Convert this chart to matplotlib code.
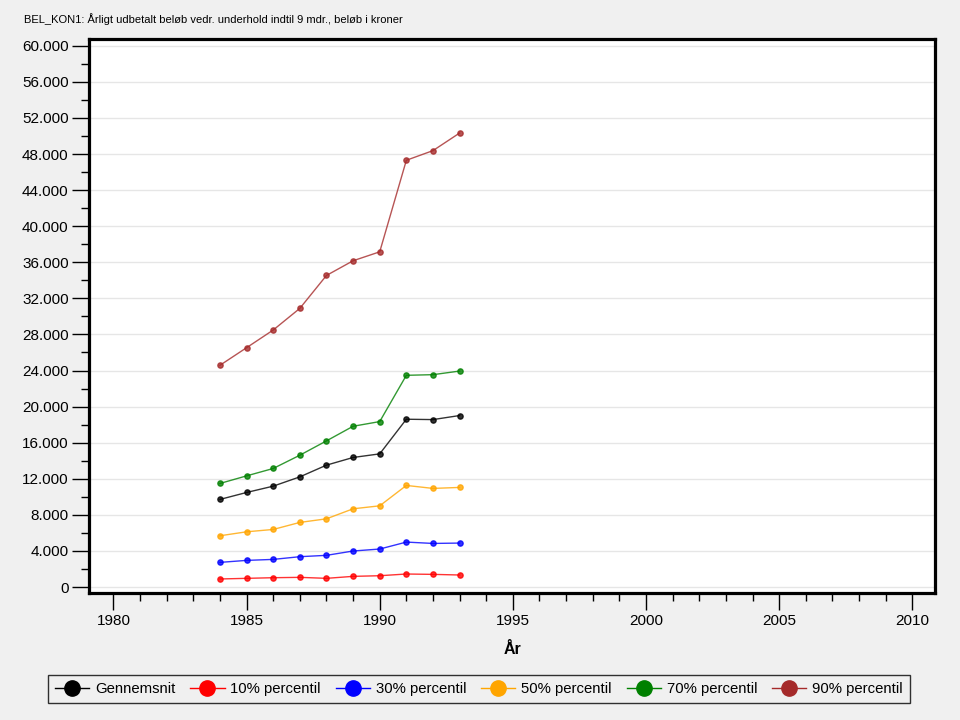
import matplotlib
matplotlib.use("Agg")
import matplotlib.pyplot as plt
import matplotlib.ticker as ticker
from matplotlib.lines import Line2D

plt.rcParams['font.family'] = ['Liberation Sans', 'DejaVu Sans']

# --- DATA ---
years = [1984, 1985, 1986, 1987, 1988, 1989, 1990, 1991, 1992, 1993]
gennemsnit = [9710, 10480, 11180, 12210, 13510, 14360, 14760, 18600, 18560, 19010]
p10 = [890, 960, 1030, 1070, 960, 1180, 1250, 1440, 1400, 1330]
p30 = [2730, 2950, 3060, 3360, 3510, 3990, 4210, 4980, 4830, 4870]
p50 = [5680, 6120, 6380, 7160, 7560, 8670, 9000, 11260, 10930, 11040]
p70 = [11480, 12320, 13140, 14610, 16200, 17820, 18340, 23470, 23540, 23940]
p90 = [24580, 26530, 28490, 30890, 34540, 36170, 37160, 47310, 48380, 50330]

series_names = ["Gennemsnit", "10% percentil", "30% percentil",
                "50% percentil", "70% percentil", "90% percentil"]
series_values = [gennemsnit, p10, p30, p50, p70, p90]
series_colors = ["black", "red", "blue", "orange", "green", "#A52A2A"]

title = "BEL_KON1: Årligt udbetalt beløb vedr. underhold indtil 9 mdr., beløb i kroner"

# --- PLOT SETUP ---
bg = "#F0F0F0"
fig = plt.figure(figsize=(9.6, 7.2), dpi=100, facecolor=bg)
ax = fig.add_axes([0.0932, 0.1757, 0.8804, 0.7697])
ax.set_facecolor("white")

for name, vals, col in zip(series_names, series_values, series_colors):
    ax.plot(years, vals, color=col, lw=1.0, alpha=0.8, marker='o', ms=3.8,
            mec=col, mfc=col, zorder=3)

ax.set_xlim(1979.1, 2010.84)
ax.set_ylim(-720, 60720)

ax.yaxis.set_major_locator(ticker.MultipleLocator(4000))
ax.yaxis.set_minor_locator(ticker.MultipleLocator(2000))
ax.yaxis.set_major_formatter(ticker.FuncFormatter(
    lambda v, pos: f"{int(round(v)):,}".replace(",", ".")))
ax.xaxis.set_major_locator(ticker.MultipleLocator(5))
ax.xaxis.set_minor_locator(ticker.MultipleLocator(1))

ax.tick_params(axis='both', which='major', length=12, width=1, labelsize=11,
               colors='black', pad=3)
ax.tick_params(axis='both', which='minor', length=6, width=1)
ax.grid(True, axis='y', which='major', color='#E6E6E6', lw=1, zorder=0)

for s in ax.spines.values():
    s.set_linewidth(2.3)
    s.set_color('black')

ax.set_xlabel("År", fontsize=11.5, fontweight='bold', labelpad=10)

fig.text(24 / 960, 1 - 19 / 720, title, fontsize=8.0, va='center', ha='left')

# legend
handles = [Line2D([], [], color=c, lw=1, marker='o', ms=11, mfc=c, mec=c)
           for c in series_colors]
leg = fig.legend(handles, series_names, ncol=6, loc='center',
                 bbox_to_anchor=(479 / 960, 1 - 689 / 720), fontsize=10.7,
                 frameon=True, fancybox=False, edgecolor='black',
                 facecolor=bg, handlelength=2.3, handletextpad=0.4,
                 columnspacing=1.0, borderpad=0.45)
leg.get_frame().set_linewidth(1)

fig.savefig("out.png", dpi=100, facecolor=bg)
